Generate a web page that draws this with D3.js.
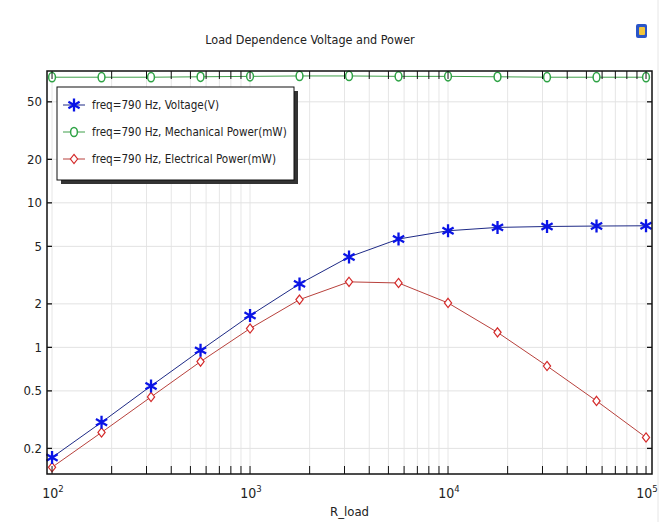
<!DOCTYPE html>
<html>
<head>
<meta charset="utf-8">
<script src="https://cdn.jsdelivr.net/npm/d3@7"></script>
<style>
  body { margin: 0; background: #fff; }
  text { font-family: "DejaVu Sans Condensed", "Liberation Sans Narrow", "DejaVu Sans", sans-serif; fill: #222; }
</style>
</head>
<body>
<div id="chart"></div>
<script>
// data (13 load values, log spaced)
var rLoad = [100, 177.8, 316.2, 562.3, 1000, 1778, 3162, 5623, 10000, 17780, 31620, 56230, 100000];
var voltage = [0.173, 0.303, 0.541, 0.954, 1.66, 2.75, 4.22, 5.62, 6.41, 6.76, 6.86, 6.91, 6.94];
var mechPower = [74, 74, 74, 74.5, 75, 75.5, 75.5, 75, 75, 74.5, 74, 74, 74];
var elecPower = [0.148, 0.258, 0.454, 0.797, 1.35, 2.14, 2.84, 2.79, 2.03, 1.27, 0.743, 0.426, 0.238];

var yTicks = [0.2, 0.5, 1, 2, 5, 10, 20, 50];
var xLabelTicks = [100, 1000, 10000, 100000];
var seriesNames = ["freq=790 Hz, Voltage(V)", "freq=790 Hz, Mechanical Power(mW)", "freq=790 Hz, Electrical Power(mW)"];
var titleText = "Load Dependence Voltage and Power",
    xTitle = "R_load";

var W = 669, H = 522,
    m = {t: 71, r: 17, b: 48, l: 47},
    w = W - m.l - m.r,
    h = H - m.t - m.b;

var svg = d3.select("#chart").append("svg")
  .attr("width", W)
  .attr("height", H);

svg.append("rect").attr("width", W).attr("height", H).attr("fill", "#fff");

// faint window border on the right
svg.append("line")
  .attr("x1", 658).attr("x2", 658).attr("y1", 0).attr("y2", H)
  .attr("stroke", "#e6e6e6");

// small icon top right
svg.append("rect")
  .attr("x", 636).attr("y", 24).attr("width", 11).attr("height", 14).attr("rx", 2)
  .attr("fill", "#2a55c8");
svg.append("rect")
  .attr("x", 639).attr("y", 27).attr("width", 6).attr("height", 8).attr("rx", 1)
  .attr("fill", "#f2c53a");

svg.append("text")
  .attr("x", 310).attr("y", 44)
  .attr("text-anchor", "middle")
  .style("font-size", "12.5px")
  .text(titleText);

var x = d3.scaleLog().domain([94.3, 107200]).range([0, w]),
    y = d3.scaleLog().domain([0.133, 81.7]).range([h, 0]);

var g = svg.append("g").attr("transform", "translate(" + m.l + "," + m.t + ")");

var xMinor = x.ticks();

// grid
g.selectAll(".vgrid").data(xMinor).enter().append("line")
  .attr("x1", function(d){ return x(d); })
  .attr("x2", function(d){ return x(d); })
  .attr("y1", 0).attr("y2", h)
  .attr("stroke", "#e6e6e6");
g.selectAll(".hgrid").data(yTicks).enter().append("line")
  .attr("x1", 0).attr("x2", w)
  .attr("y1", function(d){ return y(d); })
  .attr("y2", function(d){ return y(d); })
  .attr("stroke", "#e2e2e2");

// series
var lineGen = d3.line()
  .x(function(d){ return x(d[0]); })
  .y(function(d){ return y(d[1]); });

function pairs(vals){ return rLoad.map(function(r, i){ return [r, vals[i]]; }); }

var mechData = pairs(mechPower),
    elecData = pairs(elecPower),
    voltData = pairs(voltage);

g.append("path").datum(mechData).attr("d", lineGen)
  .attr("fill", "none").attr("stroke", "#3f9f4a").attr("stroke-width", 1);
g.append("path").datum(elecData).attr("d", lineGen)
  .attr("fill", "none").attr("stroke", "#b8413c").attr("stroke-width", 1);
g.append("path").datum(voltData).attr("d", lineGen)
  .attr("fill", "none").attr("stroke", "#1e2a86").attr("stroke-width", 1);

function star(sel){
  sel.append("path")
    .attr("d", "M0,-6.5V6.5M-5.6,-3.2L5.6,3.2M-5.6,3.2L5.6,-3.2")
    .attr("stroke", "#0a14e6").attr("stroke-width", 2.3).attr("fill", "none");
}
function circ(sel){
  sel.append("ellipse").attr("rx", 3.4).attr("ry", 4.6)
    .attr("fill", "#fff").attr("stroke", "#2fa346").attr("stroke-width", 1.5);
}
function diam(sel){
  sel.append("path").attr("d", "M0,-4.6L3.6,0L0,4.6L-3.6,0Z")
    .attr("fill", "#fff").attr("stroke", "#d42a2a").attr("stroke-width", 1.2);
}

function markers(data, fn){
  g.selectAll(null).data(data).enter().append("g")
    .attr("transform", function(d){ return "translate(" + x(d[0]) + "," + y(d[1]) + ")"; })
    .each(function(){ fn(d3.select(this)); });
}
markers(mechData, circ);
markers(elecData, diam);
markers(voltData, star);

// frame + ticks
g.append("rect").attr("width", w).attr("height", h)
  .attr("fill", "none").attr("stroke", "#111").attr("stroke-width", 1.5);

g.selectAll(".xtb").data(xMinor).enter().append("line")
  .attr("x1", function(d){ return x(d); }).attr("x2", function(d){ return x(d); })
  .attr("y1", h).attr("y2", h - 8)
  .attr("stroke", "#111");
g.selectAll(".xtt").data(xMinor).enter().append("line")
  .attr("x1", function(d){ return x(d); }).attr("x2", function(d){ return x(d); })
  .attr("y1", 0).attr("y2", 8)
  .attr("stroke", "#111");
g.selectAll(".ytl").data(yTicks).enter().append("line")
  .attr("x1", 0).attr("x2", 5)
  .attr("y1", function(d){ return y(d); }).attr("y2", function(d){ return y(d); })
  .attr("stroke", "#111").attr("stroke-width", 1.3);
g.selectAll(".ytr").data(yTicks).enter().append("line")
  .attr("x1", w).attr("x2", w - 5)
  .attr("y1", function(d){ return y(d); }).attr("y2", function(d){ return y(d); })
  .attr("stroke", "#111").attr("stroke-width", 1.3);

// y labels
g.selectAll(".ylab").data(yTicks).enter().append("text")
  .attr("x", -5)
  .attr("y", function(d){ return y(d); })
  .attr("dy", "0.35em")
  .attr("text-anchor", "end")
  .style("font-size", "13px")
  .text(function(d){ return d; });

// x labels with exponent
var xl = g.selectAll(".xlab").data(xLabelTicks).enter().append("text")
  .attr("x", function(d){ return x(d) + 1; })
  .attr("y", h + 24)
  .attr("text-anchor", "middle")
  .style("font-size", "14px");
xl.append("tspan").text("10");
xl.append("tspan").attr("dy", -6).style("font-size", "9.5px")
  .text(function(d){ return Math.round(Math.log10(d)); });

g.append("text")
  .attr("x", w / 2).attr("y", h + 42)
  .attr("text-anchor", "middle")
  .style("font-size", "13px")
  .text(xTitle);

// legend
var leg = svg.append("g").attr("transform", "translate(57,87)");
leg.append("rect").attr("x", 4).attr("y", 4).attr("width", 237).attr("height", 93).attr("fill", "#333");
leg.append("rect").attr("width", 237).attr("height", 93).attr("fill", "#fff").attr("stroke", "#111");

var legCol = ["#1e2a86", "#3f9f4a", "#b8413c"],
    legMark = [star, circ, diam];
seriesNames.forEach(function(name, i){
  var row = leg.append("g").attr("transform", "translate(0," + (18 + i * 27) + ")");
  row.append("line").attr("x1", 6).attr("x2", 28).attr("stroke", legCol[i]);
  var mk = row.append("g").attr("transform", "translate(17,0)");
  legMark[i](mk);
  row.append("text").attr("x", 35).attr("dy", "0.35em")
    .style("font-size", "11.6px").text(name);
});
</script>
</body>
</html>
